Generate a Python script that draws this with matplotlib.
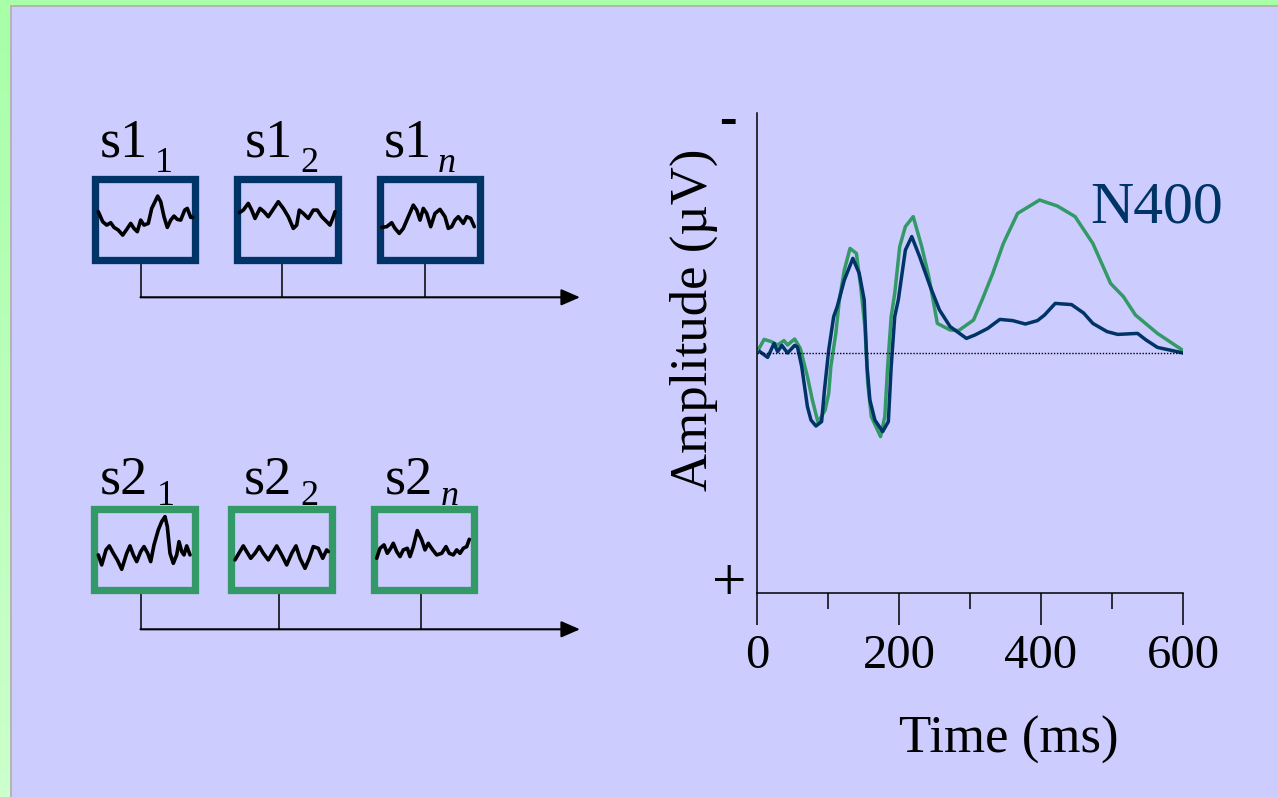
import numpy as np
import matplotlib
matplotlib.use('Agg')
import matplotlib.pyplot as plt
from matplotlib.patches import Rectangle
from matplotlib.colors import to_rgb

plt.rcParams['font.family'] = ['Liberation Serif', 'DejaVu Serif']

# ERP waveforms (time in ms, amplitude in uV, negative plotted up)
blue_t = [4, 15, 24, 29, 35, 43, 53, 57, 63, 71, 76, 83, 91, 95, 101, 108, 113, 123, 135, 144,
          151, 153, 155, 159, 166, 177, 185, 189, 194, 199, 209, 218, 229, 244, 257, 272, 295,
          307, 325, 342, 360, 378, 395, 405, 420, 443, 460, 473, 493, 508, 536, 548, 564, 594, 600]
blue_v = [-0.07, 0.22, -0.48, -0.07, -0.38, 0.0, -0.38, -0.3, 0.68, 2.68, 3.35, 3.65, 3.43, 1.85,
          -0.15, -1.82, -2.32, -3.65, -4.73, -3.98, -2.65, -0.98, 0.68, 2.35, 3.35, 3.93, 3.43,
          0.68, -1.82, -2.65, -5.15, -5.82, -4.82, -3.32, -2.15, -1.32, -0.73, -0.9, -1.23, -1.68,
          -1.62, -1.45, -1.62, -1.9, -2.48, -2.42, -2.0, -1.48, -1.07, -0.93, -0.98, -0.65, -0.28,
          -0.05, 0.0]

green_t = [3, 10, 20, 29, 38, 43, 53, 61, 71, 78, 86, 96, 101, 104, 111, 116, 123, 131, 140, 146,
           152, 156, 161, 174, 180, 184, 189, 194, 201, 209, 220, 232, 242, 254, 272, 284, 305,
           317, 332, 347, 367, 398, 423, 448, 473, 498, 516, 533, 564, 599]
green_v = [-0.23, -0.68, -0.57, -0.4, -0.62, -0.4, -0.7, -0.23, 1.18, 2.35, 3.48, 2.85, 2.02, 0.68,
           -0.98, -2.65, -4.15, -5.23, -4.98, -3.32, -1.32, 1.52, 3.18, 4.18, 3.18, 0.68, -1.82,
           -2.98, -5.32, -6.32, -6.82, -5.32, -3.82, -1.48, -1.15, -1.12, -1.65, -2.65, -3.98,
           -5.48, -6.98, -7.65, -7.35, -6.82, -5.48, -3.48, -2.82, -1.9, -0.98, -0.15]

# single-trial squiggles: x offset in box (px), y offset from box centre (px, down positive)
sq_x = [
    [7.3, 11.7, 15.7, 19.7, 23, 27.3, 31.7, 35.7, 39.7, 43, 46.3, 49.7, 53, 57.3, 60.7, 64, 66.7,
     69.7, 73, 76.3, 79.7, 83, 86.3, 89.7, 93.7, 96.3, 99.7, 101.7],
    [6, 10, 15, 18.4, 21.7, 26.7, 30.7, 35, 39.4, 45, 50, 55, 60, 63.4, 66, 70, 75, 80, 84, 88.4,
     93.4, 96.7, 99.4, 101.7],
    [5.7, 10.7, 15.7, 19, 23.3, 27.3, 32.3, 37.3, 40.7, 44, 47.3, 50.7, 54.7, 59, 64, 69, 72.3,
     75.7, 79, 82.3, 87.3, 90.7, 94.7, 98.3],
    [8.3, 11.7, 16, 19.3, 23.3, 27.3, 31.7, 36.7, 40, 43.3, 46.7, 50.7, 54, 57.7, 60.7, 64, 68.3,
     71.7, 75, 77.3, 80, 83.3, 86.7, 89, 91.7, 94, 96.7, 100],
    [7.3, 11.6, 15.6, 19, 23, 27.3, 31.6, 35.6, 40.6, 45, 49, 54, 59, 64, 68.3, 72.3, 77.3, 81.6,
     85.6, 90.6, 95, 99, 100.6],
    [6.7, 10, 14, 17.3, 20.7, 23.3, 26.7, 30, 33.3, 37.3, 40, 43.3, 47.3, 51.7, 55, 58.3, 62.7,
     66.7, 71.7, 76, 79.3, 83.3, 86.7, 90, 93.3, 96.7, 99.3],
]
sq_y = [
    [-7.7, 2.3, 5.7, 3.3, 8, 10.7, 15.7, 10, 4, 9, 12.3, 0.7, 5.7, 4, -11, -17.7, -23.3, -17.7,
     -2.7, 8, 0.7, -3.3, 0, 0.7, -9.3, -11, -2, -2],
    [-6.7, -9.3, -16, -9.3, -1, -11, -7.7, -2.7, -9.3, -17.7, -11, -2.7, 9, 5.7, -9.3, -6, -1,
     -9.3, -9.3, -2.7, 2.3, 5.7, -1, -7.7],
    [8, 7.3, 3.3, 9, 14, 9, -2.7, -14.3, -9.3, 0.7, -11, -6, 7.3, -6, -10, -2.7, 9, 7.3, 0.7,
     -2.7, 4, -2.7, -1, 7.3],
    [5.8, 15.8, 0.8, -3.2, 4.2, 10.8, 20.2, 4.2, -3.2, 5.8, 12.5, 2.5, -2.5, 4.2, 12.5, -4.2,
     -19.2, -27.5, -32.5, -22.5, 4.2, 14.2, 5.8, -7.5, 2.5, 5.8, -3.2, 5.8],
    [10.8, 3.5, -3.2, 2.5, 9.2, 4.2, -2.5, 4.2, 10.8, 3.5, -3.2, 5.8, 15.8, 4.2, -3.2, 9.2,
     19.2, 9.2, -2.5, -0.8, 9.2, 0.8, 2.5],
    [9.2, -0.8, -4.2, 4.2, -0.8, -5.8, 2.5, 7.5, 0.8, -0.8, 7.5, -2.5, -18.5, -9.2, 0.8, -5.8,
     0.8, 5.8, 4.2, -2.5, 4.2, 5.8, 0.8, 4.2, -0.8, -2.5, -9.8],
]
labels = ['s1', 's1', 's1', 's2', 's2', 's2']
subs = ['1', '2', 'n', '1', '2', 'n']

navy = '#003366'
green = '#339966'
bgcol = '#CCCCFF'

W, H = 1278, 797
fig = plt.figure(figsize=(W / 100, H / 100), dpi=100)
fig.patch.set_facecolor(bgcol)

bg = fig.add_axes([0, 0, 1, 1])
bg.axis('off')
bg.set_zorder(0)

# green frame at top and left
bg.add_patch(Rectangle((0, 0), W, 5, color='#A8FFA8', lw=0))
c1 = np.array(to_rgb('#A8FFA8'))
c2 = np.array(to_rgb('#CCFFCC'))
grad = np.linspace(0, 1, 100)[:, None, None] * (c2 - c1) + c1
bg.imshow(grad, extent=(0, 10, H, 5), aspect='auto', origin='upper')
bg.add_patch(Rectangle((10, 5), W - 10, 2, color='#B4B4B4', lw=0))
bg.add_patch(Rectangle((10, 5), 2, H - 5, color='#B4B4B4', lw=0))
bg.set_xlim(0, W)
bg.set_ylim(H, 0)

# boxes: (left, top) in px, width/height
box_left = [91, 233.3, 376, 90, 227.7, 370]
box_top = [175.3, 175.3, 175.3, 505, 505, 505]
box_w = [107.7, 108.4, 107.3, 108.3, 108.3, 107.7]
box_h = 88.2
bw = 7.3
lab_x = [100, 245, 383.5, 100, 243.5, 385]
lab_y = [156.7, 156.7, 156.7, 493.3, 493.3, 493.3]
sub_x = [155, 300, 438, 157, 300, 441]
sub_y = [171.7, 171.7, 171.7, 505, 505, 505]
conn_x = [141, 282, 425.3, 141, 279, 420.7]

for i in range(6):
    col = navy if i < 3 else green
    l, t, w = box_left[i], box_top[i], box_w[i]
    bg.add_patch(Rectangle((l + bw / 2, t + bw / 2), w - bw, box_h - bw, fill=False,
                           ec=col, lw=bw * 0.72, joinstyle='miter', zorder=3))
    cy = t + box_h / 2
    bg.plot(l + np.array(sq_x[i]), cy + np.array(sq_y[i]), color='k', lw=2.6, zorder=4,
            solid_joinstyle='round', solid_capstyle='round')
    bg.text(lab_x[i], lab_y[i], labels[i], fontsize=39, ha='left', va='baseline', zorder=2)
    bg.text(sub_x[i], sub_y[i], subs[i], fontsize=26, ha='left', va='baseline', zorder=2,
            style='italic' if subs[i] == 'n' else 'normal')
    bottom = t + box_h
    line_y = 297.3 if i < 3 else 629.3
    bg.plot([conn_x[i], conn_x[i]], [bottom, line_y], color='k', lw=1.1, zorder=2)

for y0 in [297.3, 629.3]:
    bg.annotate('', xy=(580, y0), xytext=(140.5, y0),
                arrowprops=dict(arrowstyle='-|>,head_length=1.15,head_width=0.5',
                                mutation_scale=10, lw=1.5, color='k',
                                shrinkA=0, shrinkB=0), zorder=2)

# ERP panel
ax = fig.add_axes([757 / W, 1 - 593 / H, 426 / W, 480 / H])
ax.set_zorder(1)
ax.patch.set_alpha(0)
ax.plot(green_t, green_v, color=green, lw=2.5)
ax.plot(blue_t, blue_v, color=navy, lw=2.5)
ax.plot([0, 600], [0, 0], color='k', lw=1.0, linestyle=(0, (1, 1.2)))
ax.set_xlim(0, 600)
ax.set_ylim(12, -12)
for s in ['top', 'right']:
    ax.spines[s].set_visible(False)
ax.spines['left'].set_linewidth(1.1)
ax.spines['bottom'].set_linewidth(1.1)
ax.set_xticks([0, 200, 400, 600])
ax.set_xticks([100, 300, 500], minor=True)
ax.set_yticks([])
ax.tick_params(axis='x', which='major', length=23, width=1.1, labelsize=35, pad=6.5)
ax.tick_params(axis='x', which='minor', length=11.5, width=1.1)
ax.set_xlabel('Time (ms)', fontsize=38, labelpad=27)
ax.xaxis.label.set_x(252 / 426)

bg.text(694, 320, 'Amplitude (µV)', fontsize=38, rotation=90, ha='center', va='center')
bg.text(1090, 222.7, 'N400', fontsize=43, color=navy, ha='left', va='baseline')
bg.text(727.5, 134, '-', fontsize=38, fontweight='bold', ha='center', va='baseline')
bg.text(729, 600, '+', fontsize=44, ha='center', va='baseline')

fig.savefig('out.png', dpi=100, facecolor=bgcol)
